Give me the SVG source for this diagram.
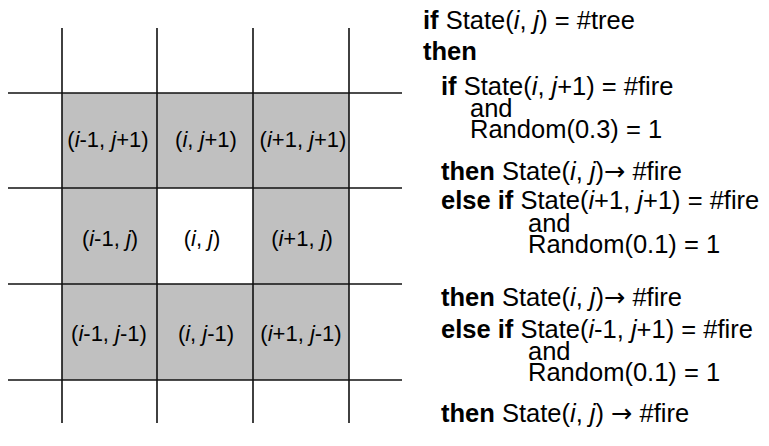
<svg xmlns="http://www.w3.org/2000/svg" width="769" height="446" viewBox="0 0 769 446">
  <style>
    .cell { fill: #c0c0c0; stroke: none; }
    .grid line { stroke: #111; stroke-width: 1.6; }
    .lbl { font-family: "Liberation Sans", Arial, sans-serif; font-size: 22px; fill: #000; text-anchor: middle; }
    .code { font-family: "Liberation Sans", Arial, sans-serif; font-size: 25.5px; fill: #000; }
    .it { font-style: italic; }
    .kw { font-weight: bold; }
    .arr { font-family: "DejaVu Sans", sans-serif; }
  </style>

  <rect width="769" height="446" fill="#fff"/>

  <!-- shaded neighbourhood -->
  <g id="cells">
    <rect class="cell" x="62" y="93" width="95" height="95"/>
    <rect class="cell" x="157" y="93" width="96" height="95"/>
    <rect class="cell" x="253" y="93" width="96" height="95"/>
    <rect class="cell" x="62" y="188" width="95" height="96"/>
    <rect class="cell" x="253" y="188" width="96" height="96"/>
    <rect class="cell" x="62" y="284" width="95" height="96"/>
    <rect class="cell" x="157" y="284" width="96" height="96"/>
    <rect class="cell" x="253" y="284" width="96" height="96"/>
  </g>

  <!-- grid lines -->
  <g id="connectors" class="grid">
    <line x1="62" y1="28" x2="62" y2="423"/>
    <line x1="157" y1="28" x2="157" y2="423"/>
    <line x1="253" y1="28" x2="253" y2="423"/>
    <line x1="349" y1="28" x2="349" y2="423"/>
    <line x1="8" y1="93" x2="402" y2="93"/>
    <line x1="8" y1="188" x2="402" y2="188"/>
    <line x1="8" y1="284" x2="402" y2="284"/>
    <line x1="8" y1="380" x2="402" y2="380"/>
  </g>

  <!-- cell labels -->
  <g id="n-im1-jp1"><text class="lbl" x="108" y="147">(<tspan class="it">i</tspan>-1, <tspan class="it">j</tspan>+1)</text></g>
  <g id="n-i-jp1"><text class="lbl" x="206" y="147">(<tspan class="it">i</tspan>, <tspan class="it">j</tspan>+1)</text></g>
  <g id="n-ip1-jp1"><text class="lbl" x="303" y="147">(<tspan class="it">i</tspan>+1, <tspan class="it">j</tspan>+1)</text></g>
  <g id="n-im1-j"><text class="lbl" x="110" y="246">(<tspan class="it">i</tspan>-1, <tspan class="it">j</tspan>)</text></g>
  <g id="n-i-j"><text class="lbl" x="202" y="246">(<tspan class="it">i</tspan>, <tspan class="it">j</tspan>)</text></g>
  <g id="n-ip1-j"><text class="lbl" x="302" y="246">(<tspan class="it">i</tspan>+1, <tspan class="it">j</tspan>)</text></g>
  <g id="n-im1-jm1"><text class="lbl" x="109" y="341">(<tspan class="it">i</tspan>-1, <tspan class="it">j</tspan>-1)</text></g>
  <g id="n-i-jm1"><text class="lbl" x="206" y="341">(<tspan class="it">i</tspan>, <tspan class="it">j</tspan>-1)</text></g>
  <g id="n-ip1-jm1"><text class="lbl" x="301" y="341">(<tspan class="it">i</tspan>+1, <tspan class="it">j</tspan>-1)</text></g>

  <!-- rule text -->
  <g id="rules" class="code">
    <text x="423" y="29"><tspan class="kw">if</tspan> State(<tspan class="it">i</tspan>, <tspan class="it">j</tspan>) = #tree</text>
    <text x="423" y="60" class="kw">then</text>
    <text x="441" y="95"><tspan class="kw">if</tspan> State(<tspan class="it">i</tspan>, <tspan class="it">j</tspan>+1) = #fire</text>
    <text x="470" y="117">and</text>
    <text x="470" y="138">Random(0.3) = 1</text>
    <text x="441" y="180"><tspan class="kw">then</tspan> State(<tspan class="it">i</tspan>, <tspan class="it">j</tspan>)<tspan class="arr">→</tspan> #fire</text>
    <text x="441" y="209"><tspan class="kw">else if</tspan> State(<tspan class="it">i</tspan>+1, <tspan class="it">j</tspan>+1) = #fire</text>
    <text x="528" y="232">and</text>
    <text x="528" y="253">Random(0.1) = 1</text>
    <text x="441" y="306"><tspan class="kw">then</tspan> State(<tspan class="it">i</tspan>, <tspan class="it">j</tspan>)<tspan class="arr">→</tspan> #fire</text>
    <text x="441" y="338"><tspan class="kw">else if</tspan> State(<tspan class="it">i</tspan>-1, <tspan class="it">j</tspan>+1) = #fire</text>
    <text x="528" y="360">and</text>
    <text x="528" y="381">Random(0.1) = 1</text>
    <text x="441" y="422"><tspan class="kw">then</tspan> State(<tspan class="it">i</tspan>, <tspan class="it">j</tspan>) <tspan class="arr">→</tspan> #fire</text>
  </g>
</svg>
